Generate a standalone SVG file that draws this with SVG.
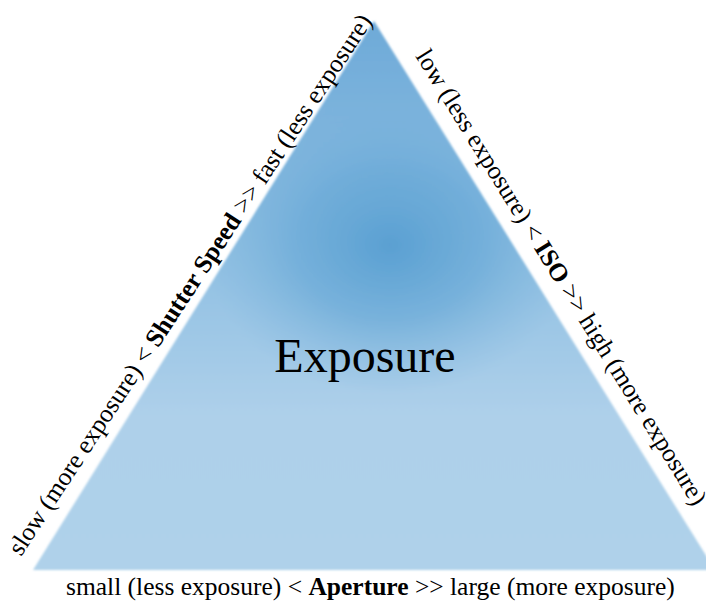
<svg xmlns="http://www.w3.org/2000/svg" width="706" height="604" viewBox="0 0 706 604">
  <defs>
    <linearGradient id="base" gradientUnits="userSpaceOnUse" x1="0" y1="22" x2="0" y2="570">
      <stop offset="0" stop-color="#6eaad8"/>
      <stop offset="0.45" stop-color="#92c1e3"/>
      <stop offset="0.72" stop-color="#aed0ea"/>
      <stop offset="1" stop-color="#afd1ea"/>
    </linearGradient>
    <radialGradient id="spot" gradientUnits="userSpaceOnUse" cx="390" cy="245" r="150" gradientTransform="translate(390 245) scale(1.25 1) translate(-390 -245)">
      <stop offset="0" stop-color="#5aa0d2" stop-opacity="1"/>
      <stop offset="0.5" stop-color="#62a5d5" stop-opacity="0.6"/>
      <stop offset="1" stop-color="#7ab3dc" stop-opacity="0"/>
    </radialGradient>
    <filter id="soft" x="-5%" y="-5%" width="110%" height="110%">
      <feGaussianBlur stdDeviation="1"/>
    </filter>
  </defs>
  <style>
    text { font-family: 'Liberation Serif', 'Times New Roman', 'DejaVu Serif', serif; fill: #000; }
    .lbl { font-size: 25.5px; }
    .b { font-weight: bold; }
    .title { font-size: 48px; }
  </style>
  <rect width="706" height="604" fill="#ffffff"/>
  <g id="triangle" filter="url(#soft)">
    <polygon points="374,21 33,570 715,570" fill="url(#base)"/>
    <polygon points="374,21 33,570 715,570" fill="url(#spot)"/>
  </g>
  <g id="center-label">
    <text class="title" font-family="Liberation Serif, serif" x="365" y="372" text-anchor="middle">Exposure</text>
  </g>
  <g id="shutter-label">
    <text class="lbl" font-family="Liberation Serif, serif" transform="translate(21 557) rotate(-56.7)" x="0" y="0">slow (more exposure) &lt; <tspan class="b">Shutter Speed</tspan> &gt;&gt; fast (less exposure)</text>
  </g>
  <g id="iso-label">
    <text class="lbl" font-family="Liberation Serif, serif" transform="translate(415 56) rotate(58.3)" x="0" y="0">low (less exposure) &lt; <tspan class="b">ISO</tspan> &gt;&gt; high (more exposure)</text>
  </g>
  <g id="aperture-label">
    <text class="lbl" font-family="Liberation Serif, serif" x="66" y="595">small (less exposure) &lt; <tspan class="b">Aperture</tspan> &gt;&gt; large (more exposure)</text>
  </g>
</svg>
